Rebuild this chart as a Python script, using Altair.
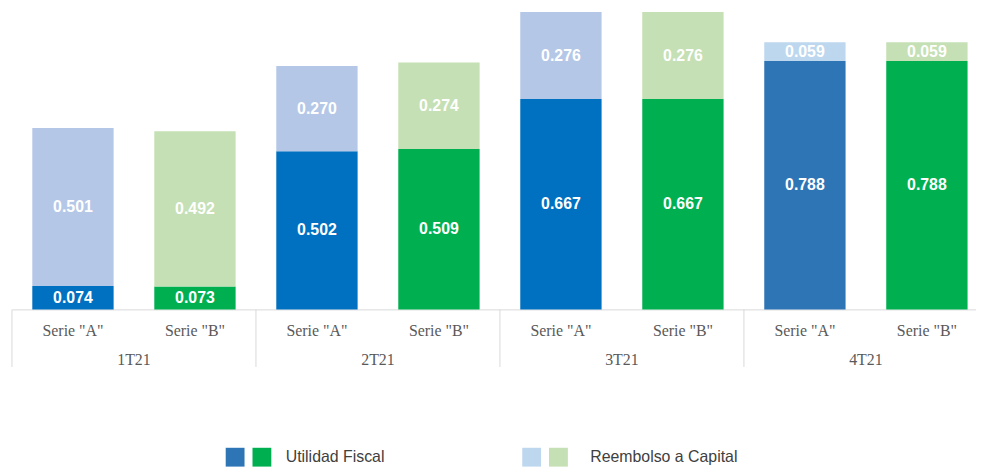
import altair as alt
import pandas as pd

quarters = ["1T21", "2T21", "3T21", "4T21"]
series = ['Serie "A"', 'Serie "B"']
utilidad_a = [0.074, 0.502, 0.667, 0.788]
utilidad_b = [0.073, 0.509, 0.667, 0.788]
reembolso_a = [0.501, 0.270, 0.276, 0.059]
reembolso_b = [0.492, 0.274, 0.276, 0.059]
dark_a = ["#0070C0", "#0070C0", "#0070C0", "#2E75B6"]
light_a = ["#B4C7E7", "#B4C7E7", "#B4C7E7", "#BDD7EE"]
dark_b = ["#00B050"] * 4
light_b = ["#C5E0B4"] * 4
legend_labels = ["Utilidad Fiscal", "Reembolso a Capital"]
legend_colors_1 = ["#2E75B6", "#BDD7EE"]
legend_colors_2 = ["#00B050", "#C5E0B4"]

# layout constants (pixels)
W, H = 972, 302
STEP = 123.0
PAD_INNER = 1 / 3
GAP = STEP * PAD_INNER
N_BARS = 8
PAD_OUTER = (W / STEP - N_BARS + PAD_INNER) / 2
ALIGN = (GAP / 2) / (W - STEP * (N_BARS - PAD_INNER))

rows = []
bar_rows = []
bar_keys = []
first_keys = []
for i, q in enumerate(quarters):
    for j, (s, uf, rc, cd, cl) in enumerate([
        (series[0], utilidad_a[i], reembolso_a[i], dark_a[i], light_a[i]),
        (series[1], utilidad_b[i], reembolso_b[i], dark_b[i], light_b[i]),
    ]):
        key = q + "|" + s
        bar_keys.append(key)
        if j == 0:
            first_keys.append(key)
        bar_rows.append({"bar": key, "quarter": q, "serie": s})
        rows.append({"bar": key, "segment": legend_labels[0], "order": 0,
                     "value": uf, "color": cd, "label": f"{uf:.3f}"})
        rows.append({"bar": key, "segment": legend_labels[1], "order": 1,
                     "value": rc, "color": cl, "label": f"{rc:.3f}"})

df = pd.DataFrame(rows)
bdf = pd.DataFrame(bar_rows)
qdf = pd.DataFrame({"quarter": quarters, "bar": first_keys})
ldf = pd.DataFrame({"label": legend_labels, "c1": legend_colors_1, "c2": legend_colors_2})

bar_scale = alt.Scale(domain=bar_keys, paddingInner=PAD_INNER, paddingOuter=PAD_OUTER,
                      align=ALIGN)
bar_axis = alt.Axis(domain=True, domainColor="#D9D9D9", domainWidth=1, labels=False,
                    ticks=False, grid=False, title=None)
bar_x = alt.X("bar:N", sort=bar_keys, scale=bar_scale, axis=bar_axis)
y_scale = alt.Scale(domain=[0, 0.95], nice=False, zero=True)

bars = alt.Chart(df).mark_bar().encode(
    x=bar_x,
    y=alt.Y("value:Q", stack="zero", scale=y_scale, axis=None),
    color=alt.Color("color:N", scale=None),
    order=alt.Order("order:Q"),
)

labels = alt.Chart(df).transform_stack(
    stack="value", groupby=["bar"], as_=["v0", "v1"],
    sort=[alt.SortField("order", order="ascending")],
).transform_calculate(
    mid="(datum.v0 + datum.v1) / 2"
).mark_text(
    color="white", fontWeight="bold", fontSize=16, font="Liberation Sans", baseline="middle"
).encode(
    x=bar_x,
    y=alt.Y("mid:Q", scale=y_scale, axis=None),
    text="label:N",
)

serie_text = alt.Chart(bdf).mark_text(
    font="Liberation Serif", fontSize=16, color="#595959", baseline="middle"
).encode(x=bar_x, y=alt.value(324), text="serie:N")

seps = alt.Chart(qdf).mark_rule(color="#D9D9D9", strokeWidth=1, xOffset=-GAP / 2).encode(
    x=alt.X("bar:N", sort=bar_keys, scale=bar_scale, bandPosition=0, axis=bar_axis),
    y=alt.value(H),
    y2=alt.value(360),
)
q_text = alt.Chart(qdf).mark_text(
    font="Liberation Serif", fontSize=16, color="#595959", baseline="middle",
    xOffset=STEP / 2,
).encode(
    x=alt.X("bar:N", sort=bar_keys, scale=bar_scale, bandPosition=0.5, axis=bar_axis),
    y=alt.value(353),
    text="quarter:N",
)

leg_x = alt.X("label:N", sort=legend_labels,
              scale=alt.Scale(type="point", domain=legend_labels, range=[225, 524], padding=0),
              axis=None)
sq1 = alt.Chart(ldf).mark_square(size=360, opacity=1).encode(
    x=leg_x, y=alt.value(451), color=alt.Color("c1:N", scale=None))
sq2 = alt.Chart(ldf).mark_square(size=360, opacity=1, xOffset=27).encode(
    x=leg_x, y=alt.value(451), color=alt.Color("c2:N", scale=None))
t1 = alt.Chart(ldf).transform_filter(
    alt.datum.label == legend_labels[0]
).mark_text(align="left", baseline="middle", font="Liberation Sans", fontSize=16,
            color="#404040", xOffset=51).encode(x=leg_x, y=alt.value(451), text="label:N")
t2 = alt.Chart(ldf).transform_filter(
    alt.datum.label == legend_labels[1]
).mark_text(align="left", baseline="middle", font="Liberation Sans", fontSize=16,
            color="#404040", xOffset=59).encode(x=leg_x, y=alt.value(451), text="label:N")

inner = alt.layer(bars, labels, serie_text, seps, q_text)
chart = alt.layer(inner, sq1, sq2, t1, t2).resolve_scale(
    x="independent"
).properties(
    width=W, height=H,
    autosize=alt.AutoSizeParams(type="none"),
    padding={"left": 4, "top": 0, "right": 0, "bottom": 158},
).configure_view(stroke=None)

chart.save("out.html", embed_options={"renderer": "svg", "actions": False})
